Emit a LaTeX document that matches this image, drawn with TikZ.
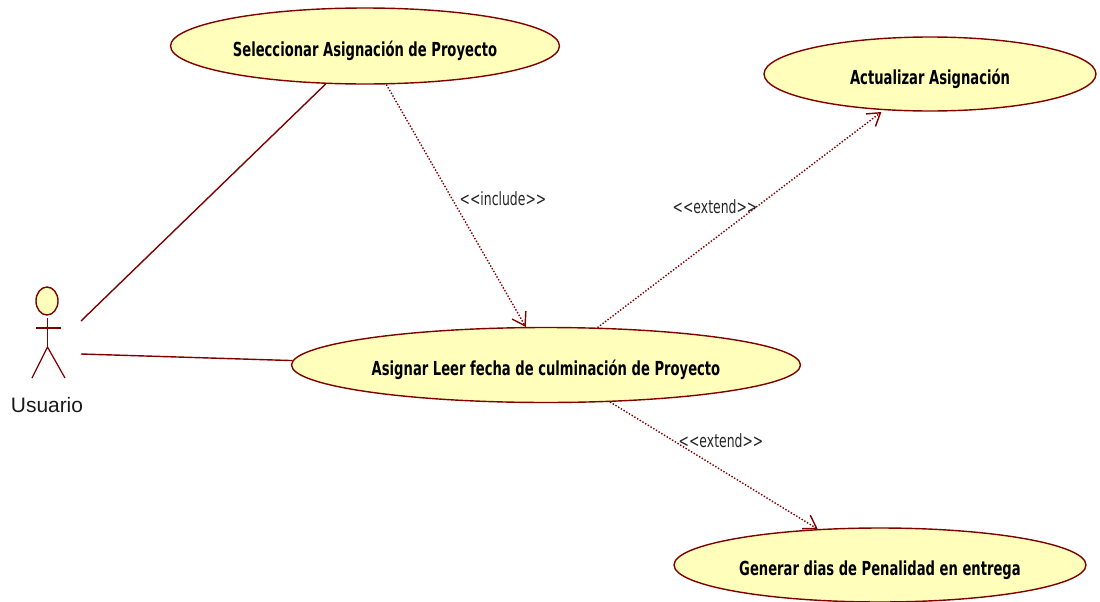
\documentclass[tikz,border=0pt]{standalone}
\usepackage{fontspec}
\setmainfont{Liberation Sans}
\newfontfamily\casefont[FakeStretch=0.68]{DejaVu Sans}
\usetikzlibrary{shapes.geometric, arrows.meta, positioning}
\definecolor{umlline}{HTML}{800000}
\definecolor{umlfill}{HTML}{FFFFBB}
\tikzset{
    usecase/.style={
        ellipse, draw=umlline, line width=0.8pt, inner sep=0pt,
        text height=12pt, text depth=0pt,
        fill=umlfill, font=\casefont\fontsize{11}{13}\selectfont\bfseries
    },
    assoc/.style={draw=umlline, line width=0.8pt},
    depend/.style={draw=umlline, line width=0.8pt, densely dotted, -{Straight Barb[length=7pt, width=9pt, line width=0.8pt]}},
    stereo/.style={font=\casefont\fontsize{10.4}{12}\selectfont, text=black!85, inner sep=0pt},
    limb/.style={draw=umlline, line width=0.7pt}
}
\begin{document}
\begin{tikzpicture}[x=0.02cm, y=-0.02cm]
\useasboundingbox (0,0) rectangle (1100,602);

% Use cases
\node[usecase, minimum width=7.78cm, minimum height=1.52cm] (select) at (365,46) {Seleccionar Asignación de Proyecto};
\node[usecase, minimum width=6.64cm, minimum height=1.48cm] (update) at (930,74) {Actualizar Asignación};
\node[usecase, minimum width=10.18cm, minimum height=1.5cm] (assign) at (546,365) {Asignar Leer fecha de culminación de Proyecto};
\node[usecase, minimum width=8.24cm, minimum height=1.48cm] (penalty) at (880,565) {Generar dias de Penalidad en entrega};

% Actor
\node[ellipse, draw=umlline, fill=umlfill, line width=0.8pt, inner sep=0pt, minimum width=0.44cm, minimum height=0.56cm] (head) at (47,301) {};
\coordinate (neck) at (47.5,318);
\coordinate (hip) at (47.5,347);
\coordinate (armL) at (36,328);
\coordinate (armR) at (61,328);
\coordinate (footL) at (32,378);
\coordinate (footR) at (65,378);
\draw[limb] (neck) -- (hip);
\draw[limb] (armL) -- (armR);
\draw[limb] (footL) -- (hip) -- (footR);
\node[font=\fontsize{11.9}{14}\selectfont, inner sep=0pt, text=black!90] (user) at (47,405) {Usuario};

% Associations
\coordinate (userA) at (81,321);
\coordinate (userB) at (81,354);
\draw[assoc] (userA) -- (select.224);
\draw[assoc] (userB) -- (assign.179);

% Dependencies
\draw[depend] (select.299) -- (assign.118);
\draw[depend] (assign.36) -- ([shift={(1,2)}]update.216);
\draw[depend] (assign.330) -- (penalty.150);

% Stereotypes
\node[stereo] (incl) at (503,199) {<<include>>};
\node[stereo] (extA) at (715,207) {<<extend>>};
\node[stereo] (extB) at (721,441) {<<extend>>};

\end{tikzpicture}
\end{document}
